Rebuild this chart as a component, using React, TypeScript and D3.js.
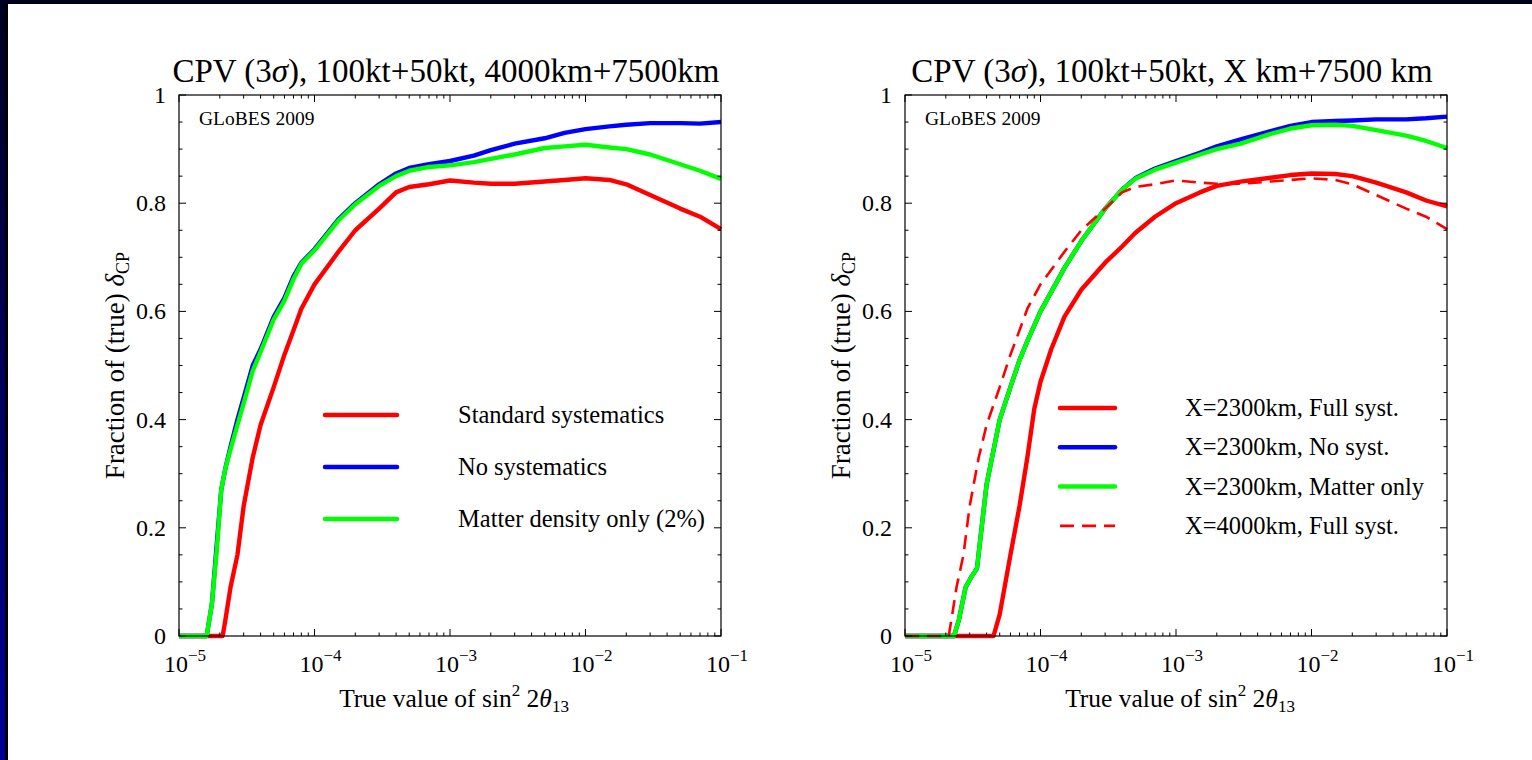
import * as d3 from "d3";

const W = 1532;
const H = 760;

// ---- left panel: 100kt+50kt, 4000km+7500km ----
const leftBlueX = [1e-5, 1.6e-5, 1.75e-5, 1.9e-5, 2.05e-5, 2.2e-5, 2.4e-5, 2.7e-5, 3e-5, 3.5e-5, 4e-5, 5e-5, 6e-5, 7e-5, 8e-5, 1e-4, 1.5e-4, 2e-4, 3e-4, 4e-4, 5e-4, 7e-4, 1e-3, 1.5e-3, 2e-3, 3e-3, 5e-3, 7e-3, 1e-2, 1.5e-2, 2e-2, 3e-2, 5e-2, 7e-2, 1e-1];
const leftBlueY = [0, 0, 0.06, 0.17, 0.27, 0.31, 0.35, 0.4, 0.44, 0.5, 0.53, 0.59, 0.625, 0.665, 0.69, 0.715, 0.77, 0.8, 0.835, 0.855, 0.865, 0.872, 0.878, 0.888, 0.898, 0.91, 0.92, 0.93, 0.937, 0.942, 0.945, 0.948, 0.948, 0.947, 0.95];
const leftGreenY = [0, 0, 0.06, 0.16, 0.27, 0.31, 0.345, 0.39, 0.43, 0.49, 0.525, 0.585, 0.62, 0.66, 0.688, 0.713, 0.768, 0.798, 0.832, 0.85, 0.86, 0.867, 0.87, 0.876, 0.882, 0.89, 0.902, 0.905, 0.908, 0.903, 0.9, 0.89, 0.872, 0.86, 0.845];

// 4000km full systematics (left red, right dashed)
const fullX4000 = [1e-5, 2.1e-5, 2.2e-5, 2.4e-5, 2.7e-5, 3e-5, 3.5e-5, 4e-5, 5e-5, 6e-5, 7e-5, 8e-5, 1e-4, 1.5e-4, 2e-4, 3e-4, 4e-4, 5e-4, 7e-4, 1e-3, 1.5e-3, 2e-3, 3e-3, 5e-3, 7e-3, 1e-2, 1.5e-2, 2e-2, 3e-2, 5e-2, 7e-2, 1e-1];
const fullY4000 = [0, 0, 0.03, 0.09, 0.15, 0.24, 0.33, 0.39, 0.46, 0.52, 0.565, 0.605, 0.65, 0.71, 0.75, 0.79, 0.82, 0.83, 0.835, 0.842, 0.838, 0.836, 0.836, 0.84, 0.843, 0.846, 0.843, 0.835, 0.815, 0.79, 0.775, 0.752];

// ---- right panel: X=2300km ----
const rightGBX = [1e-5, 2.3e-5, 2.5e-5, 2.8e-5, 3.1e-5, 3.4e-5, 3.6e-5, 4e-5, 5e-5, 6e-5, 7e-5, 8e-5, 1e-4, 1.5e-4, 2e-4, 3e-4, 4e-4, 5e-4, 7e-4, 1e-3, 1.5e-3, 2e-3, 3e-3, 5e-3, 7e-3, 1e-2, 1.5e-2, 2e-2, 3e-2, 5e-2, 7e-2, 1e-1];
const rightGreenY = [0, 0, 0.03, 0.09, 0.11, 0.125, 0.18, 0.28, 0.4, 0.46, 0.51, 0.545, 0.6, 0.68, 0.73, 0.79, 0.825, 0.845, 0.862, 0.875, 0.89, 0.9, 0.91, 0.928, 0.938, 0.944, 0.945, 0.943, 0.935, 0.925, 0.915, 0.902];
const rightBlueY = [0, 0, 0.03, 0.09, 0.11, 0.125, 0.18, 0.28, 0.4, 0.46, 0.51, 0.545, 0.6, 0.68, 0.73, 0.79, 0.825, 0.846, 0.864, 0.878, 0.893, 0.905, 0.918, 0.933, 0.943, 0.95, 0.952, 0.953, 0.955, 0.955, 0.957, 0.96];
const rightRedX = [1e-5, 4.5e-5, 5e-5, 6e-5, 7e-5, 8e-5, 9e-5, 1e-4, 1.2e-4, 1.5e-4, 2e-4, 3e-4, 4e-4, 5e-4, 7e-4, 1e-3, 1.5e-3, 2e-3, 3e-3, 5e-3, 7e-3, 1e-2, 1.5e-2, 2e-2, 3e-2, 5e-2, 7e-2, 1e-1];
const rightRedY = [0, 0, 0.04, 0.15, 0.24, 0.33, 0.42, 0.47, 0.53, 0.59, 0.64, 0.69, 0.72, 0.745, 0.775, 0.8, 0.82, 0.832, 0.84, 0.847, 0.852, 0.855, 0.854, 0.85, 0.838, 0.82, 0.805, 0.794];

const leftLegend = ["Standard systematics", "No systematics", "Matter density only (2%)"];
const rightLegend = ["X=2300km, Full syst.", "X=2300km, No syst.", "X=2300km, Matter only", "X=4000km, Full syst."];
const xMajorLabels = ["\u22125", "\u22124", "\u22123", "\u22122", "\u22121"];

const serif = "'Liberation Serif', 'Times New Roman', serif";
const plotW = 542;
const top = 95;
const bottom = 636;

const zip = (xs, ys) => xs.map((x, i) => [x, ys[i]]);

const Txt = ({ x, y, size, anchor = "start", rotate = 0, children }) => (
    <text
        transform={`translate(${x},${y}) rotate(${rotate})`}
        fontFamily={serif}
        fontSize={size}
        textAnchor={anchor}
        fill="#000"
    >
        {children}
    </text>
);

function Panel({ left, title, curves, legend }) {
    const x = d3.scaleLog().domain([1e-5, 1e-1]).range([left, left + plotW]);
    const y = d3.scaleLinear().domain([0, 1]).range([bottom, top]);
    const line = d3.line().x(d => x(d[0])).y(d => y(d[1]));

    const xt = x.ticks();
    const isMajorX = t => Math.abs(Math.log10(t) - Math.round(Math.log10(t))) < 1e-6;
    const yt = y.ticks(20);
    const isMajorY = t => Math.round(t * 100) % 20 === 0;
    const right = left + plotW;

    return (
        <g>
            <Txt x={left + plotW / 2 - 4} y={82} size={33} anchor="middle">
                CPV (3<tspan fontStyle="italic">σ</tspan>), {title}
            </Txt>

            {curves.map((c, i) => (
                <path key={i} d={line(c.data)} fill="none" stroke={c.color}
                    strokeWidth={c.dash ? 2.6 : 4.4} strokeDasharray={c.dash ? "14,8" : null}
                    strokeLinejoin="round" />
            ))}

            <rect x={left} y={top} width={plotW} height={bottom - top} fill="none" stroke="#000" strokeWidth={1.2} />

            {xt.map((t, i) => {
                const len = isMajorX(t) ? 7 : 3.5;
                return (
                    <g key={"x" + i}>
                        <line x1={x(t)} x2={x(t)} y1={bottom} y2={bottom - len} stroke="#000" />
                        <line x1={x(t)} x2={x(t)} y1={top} y2={top + len} stroke="#000" />
                    </g>
                );
            })}
            {yt.map((t, i) => {
                const len = isMajorY(t) ? 7 : 3.5;
                return (
                    <g key={"y" + i}>
                        <line x1={left} x2={left + len} y1={y(t)} y2={y(t)} stroke="#000" />
                        <line x1={right} x2={right - len} y1={y(t)} y2={y(t)} stroke="#000" />
                    </g>
                );
            })}

            {yt.filter(isMajorY).map((t, i) => (
                <Txt key={"yl" + i} x={left - 13} y={y(t) + 8} size={24} anchor="end">
                    {t === 0 ? "0" : t === 1 ? "1" : d3.format(".1f")(t)}
                </Txt>
            ))}
            {xt.filter(isMajorX).map((t, i) => (
                <Txt key={"xl" + i} x={x(t) + 6} y={672} size={24} anchor="middle">
                    10<tspan dy={-11} fontSize={17}>{xMajorLabels[i]}</tspan>
                </Txt>
            ))}

            <Txt x={left + plotW / 2 + 4} y={707} size={25.5} anchor="middle">
                True value of sin<tspan dy={-11} fontSize={17}>2</tspan><tspan dy={11}> 2</tspan>
                <tspan fontStyle="italic">θ</tspan><tspan dy={5} fontSize={17}>13</tspan>
            </Txt>
            <Txt x={left - 55} y={(top + bottom) / 2} size={27} anchor="middle" rotate={-90}>
                Fraction of (true) <tspan fontStyle="italic">δ</tspan><tspan dy={5} fontSize={18}>CP</tspan>
            </Txt>

            <Txt x={left + 20} y={125} size={19.5}>GLoBES 2009</Txt>

            {legend.items.map((it, i) => {
                const ly = legend.y0 + i * legend.dy;
                return (
                    <g key={"lg" + i}>
                        <line x1={left + legend.x1} x2={left + legend.x2} y1={ly} y2={ly}
                            stroke={it.color} strokeWidth={it.dash ? 2.6 : 4.5}
                            strokeDasharray={it.dash ? "14,8" : null}
                            strokeLinecap={it.dash ? "butt" : "round"} />
                        <Txt x={left + legend.tx} y={ly + 8} size={24.5}>{it.label}</Txt>
                    </g>
                );
            })}
        </g>
    );
}

export default function App() {
    const leftCurves = [
        { color: "#ff0000", data: zip(fullX4000, fullY4000) },
        { color: "#0000ff", data: zip(leftBlueX, leftBlueY) },
        { color: "#00ff00", data: zip(leftBlueX, leftGreenY) },
    ];
    const rightCurves = [
        { color: "#ff0000", data: zip(rightRedX, rightRedY) },
        { color: "#0000ff", data: zip(rightGBX, rightBlueY) },
        { color: "#00ff00", data: zip(rightGBX, rightGreenY) },
        { color: "#ff0000", dash: true, data: zip(fullX4000, fullY4000) },
    ];
    const leftLeg = {
        x1: 146, x2: 218, tx: 279, y0: 415, dy: 52,
        items: [
            { color: "#ff0000", label: leftLegend[0] },
            { color: "#0000ff", label: leftLegend[1] },
            { color: "#00ff00", label: leftLegend[2] },
        ],
    };
    const rightLeg = {
        x1: 155, x2: 210, tx: 280, y0: 408, dy: 39.3,
        items: [
            { color: "#ff0000", label: rightLegend[0] },
            { color: "#0000ff", label: rightLegend[1] },
            { color: "#00ff00", label: rightLegend[2] },
            { color: "#ff0000", dash: true, label: rightLegend[3] },
        ],
    };

    return (
        <svg width={W} height={H} style={{ position: "absolute", left: 0, top: 0, background: "#fff" }}>
            <defs>
                <linearGradient id="edge" x1="0" y1="0" x2="0" y2="1">
                    <stop offset="0" stopColor="#000022" />
                    <stop offset="1" stopColor="#00009a" />
                </linearGradient>
            </defs>
            <rect x={0} y={0} width={W} height={H} fill="#fff" />
            <rect x={0} y={0} width={W} height={4} fill="#000018" />
            <rect x={0} y={0} width={5} height={H} fill="url(#edge)" />
            <rect x={5} y={4} width={3} height={H} fill="#000" />

            <Panel left={179} title="100kt+50kt, 4000km+7500km" curves={leftCurves} legend={leftLeg} />
            <Panel left={905} title="100kt+50kt, X km+7500 km" curves={rightCurves} legend={rightLeg} />
        </svg>
    );
}
